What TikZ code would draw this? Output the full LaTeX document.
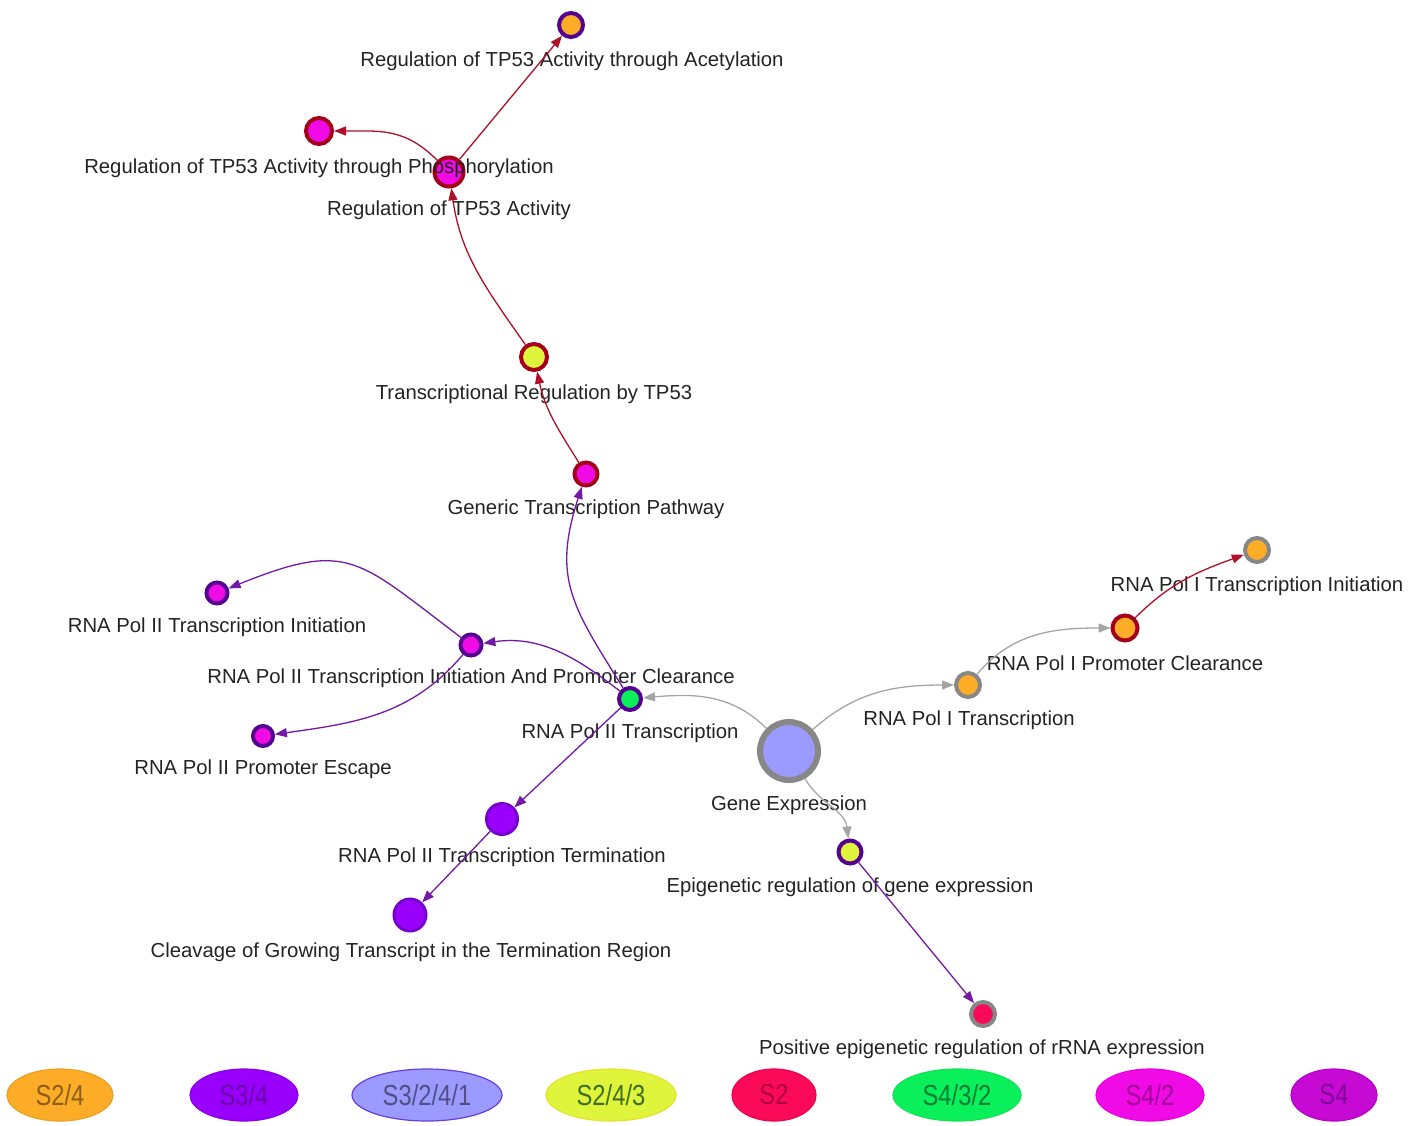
\documentclass[tikz,border=0pt]{standalone}
\usepackage{fontspec}
\setmainfont{Liberation Sans}
\usetikzlibrary{arrows.meta,shapes.geometric}

% state colours
\definecolor{cOrange}{RGB}{252,172,38}
\definecolor{cViolet}{RGB}{152,0,252}
\definecolor{cLav}{RGB}{155,155,255}
\definecolor{cLime}{RGB}{222,245,60}
\definecolor{cRose}{RGB}{252,10,90}
\definecolor{cGreen}{RGB}{10,240,90}
\definecolor{cMag}{RGB}{240,10,230}
\definecolor{cPurp}{RGB}{198,10,212}
% borders
\definecolor{bRed}{RGB}{165,0,25}
\definecolor{bIndigo}{RGB}{85,0,145}
\definecolor{bGray}{RGB}{135,135,135}
\definecolor{bViolet}{RGB}{120,0,205}
% edges and text
\definecolor{eRed}{RGB}{175,15,40}
\definecolor{ePurp}{RGB}{115,25,165}
\definecolor{eGray}{RGB}{165,165,165}
\definecolor{txt}{RGB}{35,35,35}
% key outlines and key text
\definecolor{kbOrange}{RGB}{235,160,30}
\definecolor{kbViolet}{RGB}{140,0,235}
\definecolor{kbLav}{RGB}{105,60,225}
\definecolor{kbLime}{RGB}{230,225,40}
\definecolor{kbRose}{RGB}{240,0,80}
\definecolor{kbGreen}{RGB}{20,225,85}
\definecolor{kbMag}{RGB}{235,0,225}
\definecolor{kbPurp}{RGB}{185,0,200}
\definecolor{ktOrange}{RGB}{140,95,25}
\definecolor{ktViolet}{RGB}{105,0,170}
\definecolor{ktLav}{RGB}{80,80,135}
\definecolor{ktLime}{RGB}{65,110,35}
\definecolor{ktRose}{RGB}{175,0,65}
\definecolor{ktGreen}{RGB}{0,125,55}
\definecolor{ktMag}{RGB}{160,0,150}
\definecolor{ktPurp}{RGB}{130,0,150}

\tikzset{
  vtx/.style 2 args={circle, line width=4pt, draw=#1, fill=#2, inner sep=0pt},
  lbl/.style={font=\fontsize{20.3}{24}\selectfont, text=txt, inner sep=0pt},
  link/.style={line width=1.3pt, -{Triangle[length=12pt,width=9pt]}},
  lred/.style={link, draw=eRed},
  lpur/.style={link, draw=ePurp},
  lgry/.style={link, draw=eGray},
  key/.style n args={3}{ellipse, draw=#1, fill=#2, text=#3, line width=1.2pt,
    minimum height=52pt, inner sep=0pt,
    font=\fontsize{29}{32}\selectfont},
}

\begin{document}
\begin{tikzpicture}[x=1pt,y=1pt]
\useasboundingbox (0,0) rectangle (1421,-1126);

% ---- pathway nodes ----
\node[vtx={bIndigo}{cOrange}, minimum size=24pt] (n1) at (571,-25) {};
\node[vtx={bRed}{cMag}, minimum size=26pt] (n2) at (319,-131) {};
\node[vtx={bRed}{cMag}, minimum size=29pt] (n3) at (449,-172) {};
\node[vtx={bRed}{cLime}, minimum size=26pt] (n4) at (534,-357) {};
\node[vtx={bRed}{cMag}, minimum size=23pt] (n5) at (586,-474) {};
\node[vtx={bIndigo}{cMag}, minimum size=21pt] (n6) at (217,-593) {};
\node[vtx={bIndigo}{cMag}, minimum size=21pt] (n7) at (471,-645) {};
\node[vtx={bIndigo}{cMag}, minimum size=20pt] (n8) at (263,-736) {};
\node[vtx={bIndigo}{cGreen}, minimum size=22pt] (n9) at (630,-699) {};
\node[vtx={bGray}{cLav}, line width=6pt, minimum size=58pt] (n10) at (789,-751) {};
\node[vtx={bGray}{cOrange}, minimum size=24pt] (n11) at (968,-685) {};
\node[vtx={bRed}{cOrange}, minimum size=25pt] (n12) at (1125,-628) {};
\node[vtx={bGray}{cOrange}, minimum size=24pt] (n13) at (1257,-550) {};
\node[vtx={bViolet}{cViolet}, line width=3pt, minimum size=31pt] (n14) at (502,-819) {};
\node[vtx={bViolet}{cViolet}, line width=3pt, minimum size=32pt] (n15) at (410,-915) {};
\node[vtx={bIndigo}{cLime}, minimum size=23pt] (n16) at (850,-852) {};
\node[vtx={bGray}{cRose}, minimum size=24pt] (n17) at (983,-1014) {};

% ---- node captions ----
\node[lbl] (l1) at (572,-61) {Regulation of TP53 Activity through Acetylation};
\node[lbl] (l2) at (319,-168) {Regulation of TP53 Activity through Phosphorylation};
\node[lbl] (l3) at (449,-210) {Regulation of TP53 Activity};
\node[lbl] (l4) at (534,-394) {Transcriptional Regulation by TP53};
\node[lbl] (l5) at (586,-509) {Generic Transcription Pathway};
\node[lbl] (l6) at (217,-627) {RNA Pol II Transcription Initiation};
\node[lbl] (l7) at (471,-678) {RNA Pol II Transcription Initiation And Promoter Clearance};
\node[lbl] (l8) at (263,-769) {RNA Pol II Promoter Escape};
\node[lbl] (l9) at (630,-733) {RNA Pol II Transcription};
\node[lbl] (l10) at (789,-805) {Gene Expression};
\node[lbl] (l11) at (969,-720) {RNA Pol I Transcription};
\node[lbl] (l12) at (1125,-663) {RNA Pol I Promoter Clearance};
\node[lbl] (l13) at (1257,-586) {RNA Pol I Transcription Initiation};
\node[lbl] (l14) at (502,-857) {RNA Pol II Transcription Termination};
\node[lbl] (l15) at (411,-952) {Cleavage of Growing Transcript in the Termination Region};
\node[lbl] (l16) at (850,-887) {Epigenetic regulation of gene expression};
\node[lbl] (l17) at (982,-1049) {Positive epigenetic regulation of rRNA expression};

% ---- connectors ----
\draw[lred] (n3) -- (n1);
\draw[lred] (n3) to[out=135,in=0,looseness=1.1] (n2);
\draw[lred] (n4) to[out=125,in=-82] (n3);
\draw[lred] (n5) to[out=122,in=-78] (n4);
\draw[lpur] (n9) to[out=122,in=-108,looseness=1.2] (n5);
\draw[lpur] (n9) to[out=142,in=8] (n7);
\draw[lpur] (n7) to[out=143,in=22,looseness=1.4] (n6);
\draw[lpur] (n7) to[out=-130,in=8] (n8);
\draw[lpur] (n9) -- (n14);
\draw[lpur] (n14) -- (n15);
\draw[lgry] (n10) to[out=135,in=5] (n9);
\draw[lgry] (n10) to[out=42,in=180] (n11);
\draw[lgry] (n11) to[out=50,in=180] (n12);
\draw[lred] (n12) to[out=45,in=200] (n13);
\draw[lgry] (n10) to[out=-60,in=97] (n16);
\draw[lpur] (n16) -- (n17);

% ---- state key ----
\node[key={kbOrange}{cOrange}{ktOrange}, minimum width=106pt] (k1) at (60,-1095) {\scalebox{0.82}[1]{S2/4}};
\node[key={kbViolet}{cViolet}{ktViolet}, minimum width=108pt] (k2) at (244,-1095) {\scalebox{0.82}[1]{S3/4}};
\node[key={kbLav}{cLav}{ktLav}, minimum width=150pt] (k3) at (427,-1095) {\scalebox{0.82}[1]{S3/2/4/1}};
\node[key={kbLime}{cLime}{ktLime}, minimum width=130pt] (k4) at (611,-1095) {\scalebox{0.82}[1]{S2/4/3}};
\node[key={kbRose}{cRose}{ktRose}, minimum width=84pt] (k5) at (774,-1095) {\scalebox{0.82}[1]{S2}};
\node[key={kbGreen}{cGreen}{ktGreen}, minimum width=128pt] (k6) at (957,-1095) {\scalebox{0.82}[1]{S4/3/2}};
\node[key={kbMag}{cMag}{ktMag}, minimum width=108pt] (k7) at (1150,-1095) {\scalebox{0.82}[1]{S4/2}};
\node[key={kbPurp}{cPurp}{ktPurp}, minimum width=86pt] (k8) at (1334,-1095) {\scalebox{0.82}[1]{S4}};
\end{tikzpicture}
\end{document}
